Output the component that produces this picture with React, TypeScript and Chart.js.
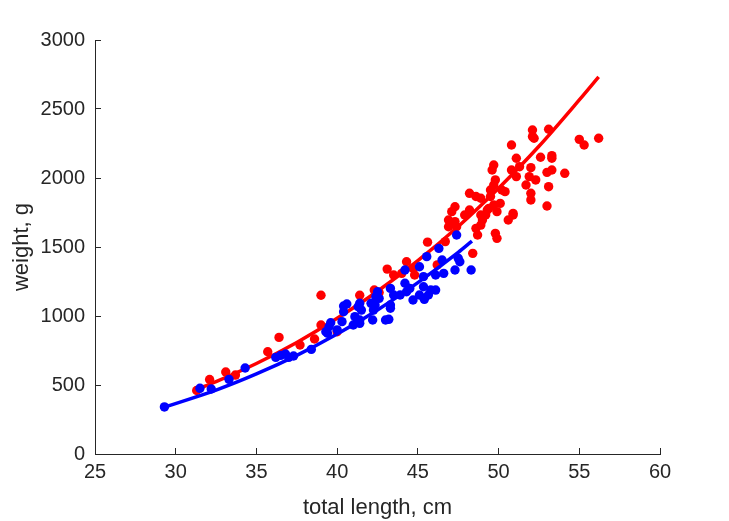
import React, { useEffect, useRef } from "react";
import { Chart, registerables } from "chart.js";

Chart.register(...registerables);

// Red group (total length cm, weight g)
const redLength = [
  31.3, 32.1, 33.1, 33.7, 35.7, 36.4, 37.7, 38.6, 39.0, 39.0, 40.0, 41.4, 42.3, 42.6, 43.1, 43.5,
  44.0, 44.3, 44.7, 44.8, 45.6, 46.2, 46.7, 46.9, 47.4, 47.1, 47.3, 46.9, 47.3, 47.9, 48.2, 48.2,
  48.6, 48.6, 48.7, 48.4, 48.9, 48.9, 48.9, 49.0, 49.2, 49.3, 49.4, 49.5, 49.5, 49.6, 49.7, 49.7,
  49.7, 49.8, 49.8, 49.9, 49.9, 50.1, 50.2, 50.4, 50.6, 50.8, 50.8, 50.9, 50.9, 51.1, 51.1, 51.3,
  51.7, 51.9, 52.0, 52.0, 52.0, 52.1, 52.1, 52.2, 52.3, 52.6, 53.0, 53.0, 53.1, 53.1, 53.3, 53.3,
  53.3, 54.1, 55.0, 55.3, 56.2,
];
const redWeight = [
  460, 540, 594, 572, 741, 845, 790, 833, 1150, 935, 886, 1150, 1188, 1170, 1340, 1297,
  1309, 1393, 1345, 1297, 1535, 1370, 1539, 1647, 1647, 1756, 1792, 1696, 1684, 1732, 1768, 1889,
  1866, 1635, 1587, 1454, 1732, 1853, 1659, 1696, 1732, 1768, 1780, 1913, 1866, 2058, 2094, 1949,
  1804, 1986, 1599, 1563, 1756, 1816, 1913, 1901, 1696, 2239, 2058, 1732, 1744, 2143, 2010, 2082,
  1949, 2010, 1889, 1841, 2075, 2348, 2300, 2288, 1986, 2150, 1797, 2041, 1937, 2353, 2162, 2143,
  2058, 2034, 2280, 2239, 2288,
];

// Blue group
const blueLength = [
  29.3, 31.5, 32.2, 33.3, 34.3, 36.2, 36.5, 36.8, 37.0, 37.3, 38.4, 39.3, 39.4, 39.5, 39.6, 40.0,
  40.3, 40.4, 40.4, 40.6, 41.0, 41.1, 41.4, 41.4, 41.4, 41.5, 41.3, 42.1, 42.2, 42.25, 42.35, 42.4,
  42.5, 42.6, 43.0, 43.2, 43.3, 43.3, 43.3, 43.5, 43.9, 44.2, 44.2, 44.5, 44.7, 44.3, 45.1, 45.1,
  45.35, 45.35, 45.4, 45.55, 45.65, 45.8, 46.1, 46.1, 46.3, 46.5, 46.6, 47.3, 47.4, 47.5, 47.6, 48.3,
];
const blueWeight = [
  341, 476, 471, 541, 623, 700, 715, 725, 700, 710, 758, 886, 875, 922, 951, 899,
  959, 1072, 1031, 1087, 935, 995, 947, 971, 1092, 1043, 1067, 1092, 971, 1043, 1080, 1140,
  1176, 1128, 971, 976, 1056, 1200, 1080, 1152, 1152, 1237, 1333, 1200, 1116, 1176, 1357, 1152,
  1285, 1212, 1121, 1430, 1152, 1188, 1297, 1188, 1490, 1406, 1309, 1333, 1587, 1418, 1393, 1333,
];

// Fitted curves
const redFitLength = [31.2, 32.5, 35, 37.5, 40, 42.5, 45, 47.5, 50, 52.5, 55, 56.2];
const redFitWeight = [464, 525, 656, 808, 983, 1179, 1401, 1649, 1926, 2230, 2566, 2733];
const blueFitLength = [29.3, 32.5, 35, 37.5, 40, 42.5, 45, 47.5, 48.35];
const blueFitWeight = [340, 463, 580, 715, 870, 1044, 1242, 1461, 1543];

const xTicks = [25, 30, 35, 40, 45, 50, 55, 60];
const yTicks = [0, 500, 1000, 1500, 2000, 2500, 3000];

const toPts = (xs: number[], ys: number[]) => xs.map((x, i) => ({ x, y: ys[i] }));

const AXIS = "#262626";
const FONT = "'Liberation Sans', Arial, Helvetica, sans-serif";

export default function App() {
  const ref = useRef<HTMLCanvasElement | null>(null);
  useEffect(() => {
    if (!ref.current) return;
    const chart = new Chart(ref.current, {
      type: "scatter",
      data: {
        datasets: [
          {
            label: "blue fit",
            data: toPts(blueFitLength, blueFitWeight),
            showLine: true,
            borderColor: "#0000FF",
            borderWidth: 3.5,
            pointRadius: 0,
            cubicInterpolationMode: "monotone",
            order: 0,
          },
          {
            label: "blue",
            data: toPts(blueLength, blueWeight),
            backgroundColor: "#0000FF",
            borderWidth: 0,
            pointRadius: 4.7,
            order: 1,
          },
          {
            label: "red fit",
            data: toPts(redFitLength, redFitWeight),
            showLine: true,
            borderColor: "#FF0000",
            borderWidth: 3.5,
            pointRadius: 0,
            cubicInterpolationMode: "monotone",
            order: 2,
          },
          {
            label: "red",
            data: toPts(redLength, redWeight),
            backgroundColor: "#FF0000",
            borderWidth: 0,
            pointRadius: 4.7,
            order: 3,
          },
        ] as any,
      },
      options: {
        responsive: false,
        animation: false,
        devicePixelRatio: 1,
        layout: { padding: { top: 40, right: 69, bottom: 0, left: 0 } },
        plugins: { legend: { display: false }, tooltip: { enabled: false } },
        elements: { point: { hoverRadius: 4.7 } },
        scales: {
          x: {
            type: "linear",
            min: 25,
            max: 60,
            afterBuildTicks: (s: any) => {
              s.ticks = xTicks.map((v) => ({ value: v }));
            },
            afterFit: (s: any) => {
              s.height = 67;
            },
            grid: {
              drawOnChartArea: false,
              drawTicks: true,
              tickLength: -6,
              color: AXIS,
              tickColor: AXIS,
            },
            border: { display: true, color: AXIS, width: 1 },
            ticks: {
              autoSkip: false,
              maxRotation: 0,
              padding: 12,
              color: AXIS,
              font: { family: FONT, size: 20 },
              callback: (v: any) => String(v),
            },
            title: {
              display: true,
              text: "total length, cm",
              color: AXIS,
              font: { family: FONT, size: 22 },
              padding: { top: 0, bottom: 0 },
            },
          },
          y: {
            type: "linear",
            min: 0,
            max: 3000,
            afterBuildTicks: (s: any) => {
              s.ticks = yTicks.map((v) => ({ value: v }));
            },
            afterFit: (s: any) => {
              s.width = 95;
            },
            grid: {
              drawOnChartArea: false,
              drawTicks: true,
              tickLength: -6,
              color: AXIS,
              tickColor: AXIS,
            },
            border: { display: true, color: AXIS, width: 1 },
            ticks: {
              autoSkip: false,
              padding: 16,
              color: AXIS,
              font: { family: FONT, size: 20 },
              callback: (v: any) => String(v),
            },
            title: {
              display: true,
              text: "weight, g",
              color: AXIS,
              font: { family: FONT, size: 22 },
              padding: { top: 9, bottom: 0 },
            },
          },
        },
      } as any,
    });
    return () => chart.destroy();
  }, []);

  return (
    <div style={{ position: "fixed", left: 0, top: 0, width: 729, height: 521, background: "#fff" }}>
      <canvas ref={ref} width={729} height={521} style={{ display: "block" }} />
    </div>
  );
}
